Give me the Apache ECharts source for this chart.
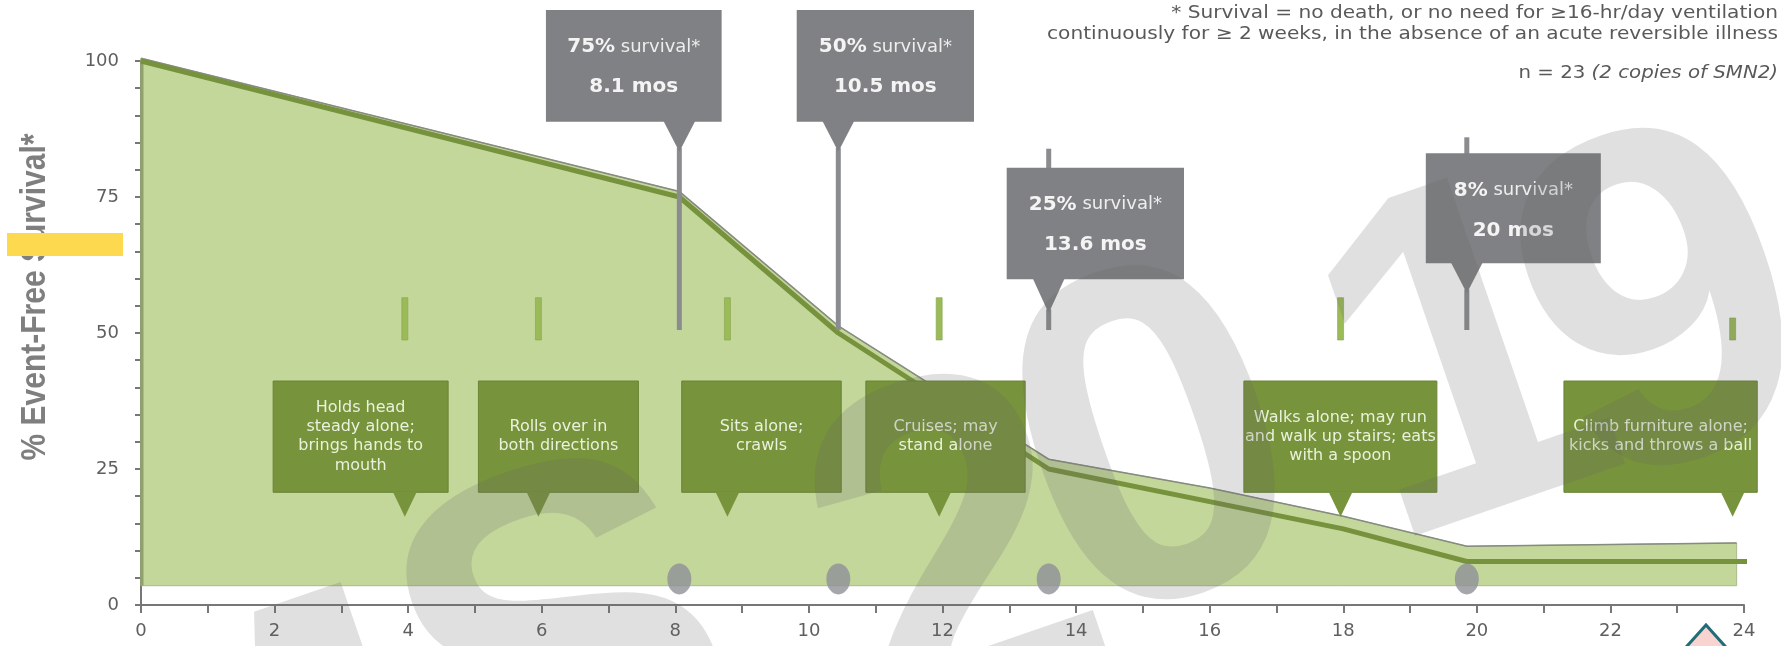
<!DOCTYPE html>
<html><head><meta charset="utf-8">
<script src="https://cdn.jsdelivr.net/npm/echarts@6/dist/echarts.min.js"></script>
<style>html,body{margin:0;padding:0;background:#fff;}#c{width:1781px;height:646px;}</style>
</head><body><div id="c"></div>
<script>
// ---------------- data ----------------
const xTickLabels = [0, 2, 4, 6, 8, 10, 12, 14, 16, 18, 20, 22, 24];
const yTickLabels = [0, 25, 50, 75, 100];
// event-free survival curve (dark line)
const curveX = [0, 8.06, 10.44, 13.59, 16, 18, 19.85, 24.05];
const curveY = [100, 75, 50, 25, 19, 14, 8, 8];
// shaded band (upper edge) and its floor
const bandX = [0, 8.06, 10.44, 13.59, 16, 18, 19.85, 23.89];
const bandTopY = [100.5, 76, 51.3, 26.8, 21.5, 16.3, 10.8, 11.4];
const bandFloor = 3.55;
// survival call-outs
const survivalX = [8.06, 10.44, 13.59, 19.85];
const survivalPct = ['75%', '50%', '25%', '8%'];
const survivalMos = ['8.1 mos', '10.5 mos', '13.6 mos', '20 mos'];
const eventMarkerY = 4.8;
// developmental milestones
const milestoneX = [3.95, 5.95, 8.78, 11.95, 17.96, 23.83];
const milestoneText = [
  'Holds head\nsteady alone;\nbrings hands to\nmouth',
  'Rolls over in\nboth directions',
  'Sits alone;\ncrawls',
  'Cruises; may\nstand alone',
  'Walks alone; may run\nand walk up stairs; eats\nwith a spoon',
  'Climb furniture alone;\nkicks and throws a ball'
];
// ---------------- layout / style ----------------
const grayLayout = [
  {l: -133.4, r: 42.3, top: 10, bottom: 121.7, apex: 151.7},
  {l: -41.6, r: 135.7, top: 10, bottom: 121.7, apex: 151.7},
  {l: -42, r: 135.3, top: 167.7, bottom: 279.3, apex: 313.3, stub: 148.7},
  {l: -41, r: 134, top: 153.3, bottom: 263.3, apex: 293.3, stub: 137.3}
];
const pointerBottom = 330;
const greenLayout = [
  {l: -131.7, r: 43.3, tickTop: 297.7},
  {l: -60, r: 100, tickTop: 297.7},
  {l: -45.7, r: 113.8, tickTop: 297.7},
  {l: -73.3, r: 86, tickTop: 297.7},
  {l: -96.7, r: 96.3, tickTop: 297.7},
  {l: -168.7, r: 24.6, tickTop: 318}
];
const GB = {top: 381, bottom: 492.3, apex: 516.7, tickBottom: 340};
const boxGray = '#808184';
const boxGreen = '#77933c';
const fillGreen = '#c4d79b';
const lineGreen = '#76923c';
const FONT = "'DejaVu Sans', sans-serif";

const chart = echarts.init(document.getElementById('c'));

function renderBand(params, api) {
  if (params.dataIndex !== 0) return null;
  const top = bandX.map((x, i) => api.coord([x, bandTopY[i]]));
  const last = bandX[bandX.length - 1];
  const pts = top.concat([api.coord([last, bandFloor]), api.coord([0, bandFloor])]);
  return {type: 'group', children: [
    {type: 'polygon', shape: {points: pts}, style: {fill: fillGreen, stroke: '#a9b890', lineWidth: 1}},
    {type: 'polyline', shape: {points: top}, style: {fill: null, stroke: '#868b80', lineWidth: 1.5}},
    {type: 'line', shape: {x1: pts[0][0] + 1, y1: pts[0][1], x2: pts[0][0] + 1, y2: api.coord([0, bandFloor])[1]}, style: {stroke: '#8fa26a', lineWidth: 3}}
  ]};
}

function renderGray(params, api) {
  const i = params.dataIndex;
  const L = grayLayout[i];
  const px = api.coord([api.value(0), 0])[0];
  const ch = [];
  const lc = '#8b8c8f';
  ch.push({type: 'line', shape: {x1: px, y1: L.apex - 4, x2: px, y2: pointerBottom}, style: {stroke: lc, lineWidth: 5}});
  if (L.stub) ch.push({type: 'line', shape: {x1: px, y1: L.stub, x2: px, y2: L.top + 1}, style: {stroke: lc, lineWidth: 5}});
  ch.push({type: 'rect', shape: {x: px + L.l, y: L.top, width: L.r - L.l, height: L.bottom - L.top}, style: {fill: boxGray}});
  ch.push({type: 'polygon', shape: {points: [[px - 16, L.bottom - 1], [px + 16, L.bottom - 1], [px, L.apex]]}, style: {fill: boxGray}});
  const cx = px + (L.l + L.r) / 2;
  ch.push({type: 'text', x: cx, y: L.top + 37, style: {
    text: '{b|' + survivalPct[i] + '}{l| survival*}', align: 'center', verticalAlign: 'middle',
    rich: {b: {font: "bold 20px " + FONT, fill: '#f4f4f4'}, l: {font: "18px " + FONT, fill: '#eeeeee'}}
  }});
  ch.push({type: 'text', x: cx, y: L.top + 77, style: {
    text: survivalMos[i], align: 'center', verticalAlign: 'middle', font: "bold 20px " + FONT, fill: '#f4f4f4'
  }});
  return {type: 'group', children: ch};
}

function renderGreen(params, api) {
  const i = params.dataIndex;
  const L = greenLayout[i];
  const px = api.coord([api.value(0), 0])[0];
  const cx = px + (L.l + L.r) / 2;
  return {type: 'group', children: [
    {type: 'rect', shape: {x: px - 3, y: L.tickTop, width: 6, height: GB.tickBottom - L.tickTop}, style: {fill: '#9bbb59', stroke: '#86a34a', lineWidth: 0.6}},
    {type: 'rect', shape: {x: px + L.l, y: GB.top, width: L.r - L.l, height: GB.bottom - GB.top}, style: {fill: boxGreen, stroke: '#6a8435', lineWidth: 1}},
    {type: 'polygon', shape: {points: [[px - 12, GB.bottom - 0.5], [px + 12, GB.bottom - 0.5], [px, GB.apex]]}, style: {fill: boxGreen}},
    {type: 'text', x: cx, y: (GB.top + GB.bottom) / 2, style: {
      text: milestoneText[i], align: 'center', verticalAlign: 'middle', font: "16px " + FONT, lineHeight: 19.3, fill: '#eaf1dc'
    }}
  ]};
}

// watermark glyph placement (local coordinates of a rotated group)
const wmRot = 19 * Math.PI / 180;
const wmFont = "bold 477px 'Liberation Sans', sans-serif";
const wmFill = 'rgba(100,100,100,0.2)';
const wmGlyphs = [
  {t: '2', x: 60, y: 134, a: 'left'},
  {t: '0', x: 285, y: 95, a: 'left'},
  {t: '1', x: 605, y: 115, a: 'left'},
  {t: '9', x: 810, y: 130, a: 'left'},
  {t: 'S', x: -46, y: 92, a: 'right'},
  {t: 'M', x: -364, y: 137, a: 'right'},
  {t: 'W', x: -761, y: 137, a: 'right'}
];

const option = {
  animation: false,
  backgroundColor: '#ffffff',
  grid: {left: 141, right: 37, top: 61, bottom: 41, containLabel: false, outerBoundsMode: 'none'},
  xAxis: {
    type: 'value', min: 0, max: 24, interval: 1,
    axisLine: {show: true, lineStyle: {color: '#777777', width: 2}},
    axisTick: {show: true, length: 8, lineStyle: {color: '#777777', width: 2}},
    axisLabel: {margin: 17, fontSize: 18, color: '#5f5f5f', fontFamily: FONT,
      formatter: v => xTickLabels.includes(v) ? String(v) : ''},
    splitLine: {show: false}
  },
  yAxis: {
    type: 'value', min: 0, max: 100, interval: 5,
    axisLine: {show: true, lineStyle: {color: '#777777', width: 2}},
    axisTick: {show: true, length: 6, lineStyle: {color: '#777777', width: 2}},
    axisLabel: {margin: 22, fontSize: 18, color: '#5f5f5f', fontFamily: FONT,
      formatter: v => yTickLabels.includes(v) ? String(v) : ''},
    splitLine: {show: false}
  },
  series: [
    {type: 'custom', name: 'band', z: 1, clip: false, silent: true,
      data: bandX.map((x, i) => [x, bandTopY[i]]), renderItem: renderBand},
    {type: 'line', name: 'EFS', z: 3, symbol: 'none', silent: true,
      data: curveX.map((x, i) => [x, curveY[i]]),
      lineStyle: {color: lineGreen, width: 5}},
    {type: 'scatter', z: 4, silent: true, symbol: 'circle', symbolSize: [24, 31],
      data: survivalX.map(x => [x, eventMarkerY]), itemStyle: {color: '#8e9197'}},
    {type: 'custom', name: 'milestones', z: 5, clip: false, silent: true,
      data: milestoneX.map(x => [x, 50]), renderItem: renderGreen},
    {type: 'custom', name: 'callouts', z: 6, clip: false, silent: true,
      data: survivalX.map(x => [x, 50]), renderItem: renderGray}
  ],
  graphic: [
    {type: 'text', z: 10, x: 35, y: 297, rotation: Math.PI / 2, scaleY: 1.15,
      style: {text: '% Event-Free Survival*', align: 'center', verticalAlign: 'middle',
        font: "bold 30px 'Liberation Sans', sans-serif", fill: '#7f7f7f'}},
    {type: 'rect', z: 11, shape: {x: 7, y: 233, width: 116, height: 23}, style: {fill: '#fdd94f'}},
    {type: 'text', z: 10, x: 1778, y: 13, scaleX: 1.15, style: {text: '* Survival = no death, or no need for \u226516-hr/day ventilation',
      align: 'right', verticalAlign: 'middle', font: "17.5px " + FONT, fill: '#595959'}},
    {type: 'text', z: 10, x: 1778, y: 34, scaleX: 1.15, style: {text: 'continuously for \u2265 2 weeks, in the absence of an acute reversible illness',
      align: 'right', verticalAlign: 'middle', font: "17.5px " + FONT, fill: '#595959'}},
    {type: 'text', z: 10, x: 1778, y: 73, scaleX: 1.13, style: {text: '{n|n = 23 }{i|(2 copies of SMN2)}',
      align: 'right', verticalAlign: 'middle',
      rich: {n: {font: "17.5px " + FONT, fill: '#595959'}, i: {font: "italic 17.5px " + FONT, fill: '#595959'}}}},
    {type: 'polygon', z: 10, shape: {points: [[1706, 625], [1679, 655], [1733, 655]]},
      style: {fill: '#f8d3d0', stroke: '#1f6d78', lineWidth: 3}},
    {type: 'group', z: 100, x: 812, y: 735, rotation: wmRot, silent: true,
      children: wmGlyphs.map(g => ({type: 'text', z: 100, x: g.x, y: g.y,
        style: {text: g.t, align: g.a, verticalAlign: 'bottom', font: wmFont, fill: wmFill}}))}
  ]
};
chart.setOption(option);
</script></body></html>
